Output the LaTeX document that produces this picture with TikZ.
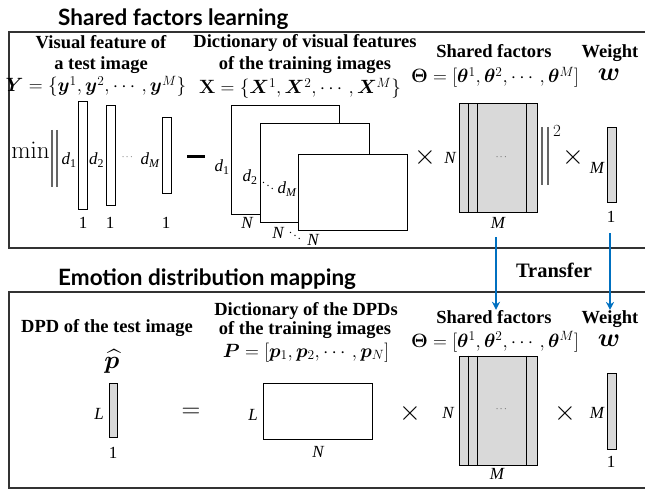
\RequirePackage{fix-cm}
\documentclass[tikz,border=0pt]{standalone}
\usepackage{amsmath}
\usepackage{bm}
\usepackage[no-math]{fontspec}
\setmainfont{Liberation Serif}
\newfontfamily\headfont{Lato}
\usetikzlibrary{arrows.meta}
\definecolor{xferblue}{RGB}{0,112,192}

\tikzset{
  hd/.style={font=\fontsize{18.5}{20}\selectfont\bfseries, inner sep=0, anchor=base},
  fm/.style={font=\fontsize{19.2}{21}\selectfont, inner sep=0, anchor=base},
  lab/.style={font=\fontsize{17}{17}\selectfont\itshape, inner sep=0},
  num/.style={font=\fontsize{17}{17}\selectfont, inner sep=0},
  opsym/.style={font=\fontsize{28}{28}\selectfont, inner sep=0},
  smalldots/.style={font=\fontsize{9}{9}\selectfont, inner sep=0},
  sectitle/.style={font=\headfont\bfseries\fontsize{22.5}{22.5}\selectfont, inner sep=0, anchor=base west},
  panel/.style={draw=black!80, line width=1.8pt},
  colv/.style={draw=black, line width=1pt, fill=white, inner sep=0, minimum width=9pt},
  gcolv/.style={colv, fill=gray!30},
  mat/.style={draw=black, line width=1pt, fill=white, inner sep=0},
  gmat/.style={mat, fill=gray!30, minimum width=78pt, minimum height=109pt},
  bar/.style={draw=black!60, line width=1.1pt},
  xfer/.style={draw=xferblue, line width=1.6pt, -{Stealth[length=8pt,width=8pt]}}
}

\begin{document}
\begin{tikzpicture}[x=1pt,y=-1pt]
\useasboundingbox (0,0) rectangle (645,489);

% ---------- panel frames ----------
\draw[panel] (647,32) -- (9,32) -- (9,248) -- (647,248);
\draw[panel] (647,292) -- (9,292) -- (9,488) -- (647,488);

\node[sectitle] (t1) at (58,26) {Shared factors learning};
\node[sectitle] (t2) at (58,285) {Emotion distribution mapping};

% ---------- upper panel: headings ----------
\node[hd] (vf1) at (101,49) {Visual feature of};
\node[hd] (vf2) at (101,70) {a test image};
\node[fm] (vf3) at (96,92) {$\bm{Y}=\{\bm{y}^1,\bm{y}^2,\cdots,\bm{y}^M\}$};

\node[hd] (dx1) at (305,48) {Dictionary of visual features};
\node[hd] (dx2) at (305,70) {of the training images};
\node[fm] (dx3) at (300,94) {$\mathbf{X}=\{\bm{X}^1,\bm{X}^2,\cdots,\bm{X}^M\}$};

\node[hd] (sf1) at (494,58) {Shared factors};
\node[fm] (sf2) at (495,83) {$\bm{\Theta}=[\bm{\theta}^1,\bm{\theta}^2,\cdots,\bm{\theta}^M]$};

\node[hd] (wt1) at (610,58) {Weight};
\node[font=\fontsize{26}{26}\selectfont, inner sep=0, anchor=base] (wt2) at (609,81) {$\bm{w}$};

% ---------- upper panel: min || y - X Theta ||^2 x w ----------
\node[font=\fontsize{25}{25}\selectfont, inner sep=0, anchor=base] (mn) at (30.5,159) {$\min$};
\draw[bar] (52,130) -- (52,187);
\draw[bar] (57,130) -- (57,187);

\node[colv, minimum height=108pt] (y1) at (82.8,156) {};
\node[colv, minimum height=100pt] (y2) at (110.5,156) {};
\node[colv, minimum height=76pt]  (y3) at (167.2,156) {};
\node[lab] (ld1) at (69,160) {d\textsubscript{\upshape 1}};
\node[lab] (ld2) at (96.5,160) {d\textsubscript{\upshape 2}};
\node[smalldots] (ldd) at (128,157) {$\cdots$};
\node[lab] (ldm) at (150,160) {d\textsubscript{M}};
\node[num] (o1) at (83,223) {1};
\node[num] (o2) at (110,223) {1};
\node[num] (o3) at (166,223) {1};

\node[fill=black, inner sep=0, minimum width=18pt, minimum height=3pt] (minus) at (196,157) {};

\node[mat, anchor=north west, minimum width=108pt, minimum height=109pt] (xa) at (231,105) {};
\node[mat, anchor=north west, minimum width=109pt, minimum height=99pt]  (xb) at (260,123) {};
\node[mat, anchor=north west, minimum width=109pt, minimum height=76pt]  (xc) at (298,154) {};
\node[lab] (xd1) at (222,167) {d\textsubscript{\upshape 1}};
\node[lab] (xd2) at (250,177) {d\textsubscript{\upshape 2}};
\node[font=\fontsize{12}{12}\selectfont, inner sep=0] (xdd) at (268,183) {$\ddots$};
\node[lab] (xdm) at (287,189) {d\textsubscript{M}};
\node[lab] (xn1) at (247,223) {N};
\node[lab] (xn2) at (278,233) {N};
\node[font=\fontsize{12}{12}\selectfont, inner sep=0] (xnd) at (295,233) {$\ddots$};
\node[lab] (xn3) at (313,240) {N};

\node[opsym] (tm1) at (425,158) {$\times$};
\node[lab] (tn) at (450,158) {N};
\node[gmat] (th1) at (498,158.5) {};
\foreach \dx in {10,19,68}
  \draw[line width=1pt] ([xshift=\dx pt]th1.north west) -- ([xshift=\dx pt]th1.south west);
\node[smalldots] (thd1) at (502,157) {$\cdots$};
\node[lab] (tmM) at (498,223) {M};

\draw[bar] (542,127) -- (542,185);
\draw[bar] (548,127) -- (548,185);
\node[font=\fontsize{17}{17}\selectfont, inner sep=0] (sq) at (557,131) {$2$};

\node[opsym] (tm2) at (573,158) {$\times$};
\node[lab] (wm1) at (597,168) {M};
\node[gcolv, minimum height=75pt] (w1) at (611.5,165.5) {};
\node[num] (w1o) at (611,217) {1};

% ---------- transfer arrows ----------
\coordinate (ta1) at (496,237);
\coordinate (ta2) at (610,233);
\node[font=\fontsize{20.5}{20.5}\selectfont\bfseries, inner sep=0, anchor=base] (tr) at (554,277) {Transfer};

% ---------- lower panel: headings ----------
\node[hd] (dp1) at (107,332) {DPD of the test image};
\node[font=\fontsize{25}{25}\selectfont, inner sep=0, anchor=base] (dp2) at (112,368) {$\widehat{\bm{p}}$};

\node[hd] (dd1) at (306,315) {Dictionary of the DPDs};
\node[hd] (dd2) at (305,334) {of the training images};
\node[fm] (dd3) at (306,357) {$\bm{P}=[\bm{p}_1,\bm{p}_2,\cdots,\bm{p}_N]$};

\node[hd] (sf3) at (494,323) {Shared factors};
\node[fm] (sf4) at (495,347) {$\bm{\Theta}=[\bm{\theta}^1,\bm{\theta}^2,\cdots,\bm{\theta}^M]$};

\node[hd] (wt3) at (610,323) {Weight};
\node[font=\fontsize{26}{26}\selectfont, inner sep=0, anchor=base] (wt4) at (609,346) {$\bm{w}$};

\draw[xfer] (ta1) -- (ta1 |- sf3.north);
\draw[xfer] (ta2) -- (ta2 |- wt3.north);

% ---------- lower panel: p = P Theta w ----------
\node[gcolv, minimum width=8pt, minimum height=54pt] (pv) at (113,410) {};
\node[lab] (pl) at (99,414) {L};
\node[num] (po) at (113,453) {1};

\node[font=\fontsize{26}{26}\selectfont, inner sep=0] (eq) at (191,413) {$=$};

\node[mat, minimum width=109pt, minimum height=56pt] (pm) at (317.5,411) {};
\node[lab] (pml) at (253,415) {L};
\node[lab] (pmn) at (318,452) {N};

\node[opsym] (tm3) at (410,413) {$\times$};
\node[lab] (tn2) at (448,413) {N};
\node[gmat] (th2) at (498,410.5) {};
\foreach \dx in {10,19,68}
  \draw[line width=1pt] ([xshift=\dx pt]th2.north west) -- ([xshift=\dx pt]th2.south west);
\node[smalldots] (thd2) at (502,409) {$\cdots$};
\node[lab] (tmM2) at (497,474) {M};

\node[opsym] (tm4) at (565,413) {$\times$};
\node[lab] (wm2) at (597,413) {M};
\node[gcolv, minimum height=76pt] (w2) at (611.5,411) {};
\node[num] (w2o) at (611,462) {1};
\end{tikzpicture}
\end{document}
